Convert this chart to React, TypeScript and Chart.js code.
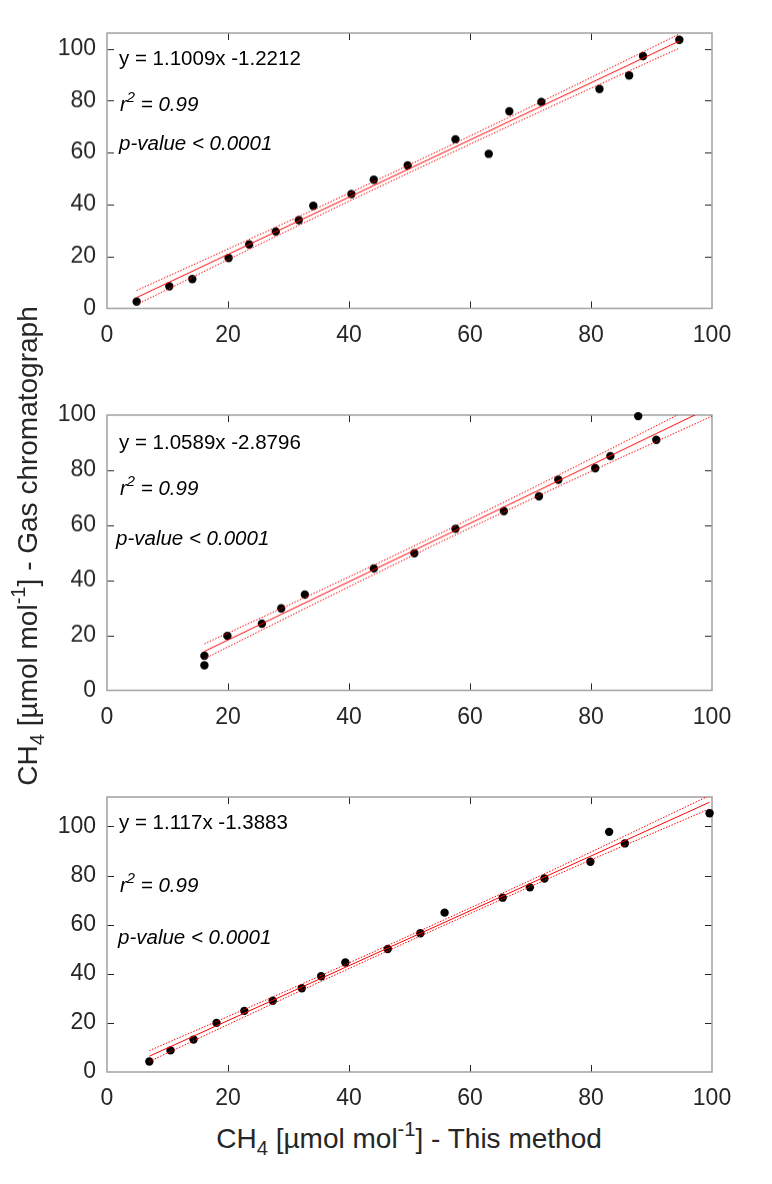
import { useEffect, useRef } from 'react';
import Chart from 'chart.js/auto';

// tick values shared by all three panels
const xTickValues = [0, 20, 40, 60, 80, 100];
const yTickValues = [0, 20, 40, 60, 80, 100];

// panel 1
const p1X = [4.9, 10.3, 14.1, 20.1, 23.5, 27.9, 31.7, 34.1, 40.4, 44.1, 49.7, 57.6, 63.1, 66.5, 71.8, 81.4, 86.3, 88.6, 94.6];
const p1Y = [2.6, 8.5, 11.3, 19.4, 24.6, 29.6, 34.0, 39.5, 44.0, 49.5, 55.0, 65.1, 59.5, 75.9, 79.5, 84.5, 89.7, 97.1, 103.4];
const fit1X = [4.9, 94.6];
const fit1Y = [4.17, 102.92];
const band1X = [4.9, 27, 48, 72, 94.6];
const band1Upper = [6.9, 30.3, 53.1, 79.8, 105.6];
const band1Lower = [1.5, 26.7, 50.1, 76.2, 100.2];

// panel 2
const p2X = [16.1, 16.1, 19.9, 25.6, 28.8, 32.7, 44.1, 50.8, 57.6, 65.6, 71.4, 74.6, 80.7, 83.2, 87.8, 90.8];
const p2Y = [9.1, 12.6, 19.8, 24.2, 29.8, 34.8, 44.3, 49.8, 58.7, 65.1, 70.5, 76.5, 80.7, 85.1, 99.6, 91.0];
const fit2X = [16.1, 100];
const fit2Y = [14.17, 103.01];
const band2X = [16.1, 36, 56, 78, 100];
const band2Upper = [16.9, 37.1, 58.0, 81.9, 106.4];
const band2Lower = [11.5, 33.3, 54.8, 77.5, 99.6];

// panel 3
const p3X = [7.0, 10.5, 14.3, 18.1, 22.7, 27.4, 32.2, 35.4, 39.4, 46.4, 51.8, 55.8, 65.4, 69.9, 72.3, 79.9, 83.0, 85.6, 99.6];
const p3Y = [4.3, 8.8, 13.2, 20.0, 24.9, 29.0, 34.1, 39.0, 44.6, 50.1, 56.5, 64.9, 71.0, 75.2, 78.8, 85.6, 97.8, 93.1, 105.4];
const fit3X = [7.0, 99.6];
const fit3Y = [6.43, 109.87];
const band3X = [7.0, 30, 52, 75, 99.6];
const band3Upper = [8.7, 33.4, 57.8, 83.8, 112.6];
const band3Lower = [4.3, 30.8, 55.6, 81.0, 107.2];

const TICK_COLOR = '#262626';
const FONT = '"Liberation Sans", Arial, sans-serif';

const toXY = (xs: number[], ys: number[]) => xs.map((x, i) => ({ x, y: ys[i] }));

// MATLAB-like box with inward ticks on all four sides
const boxPlugin = {
  id: 'boxTicks',
  beforeDatasetsDraw(chart: any) {
    const { ctx, chartArea: a, scales } = chart;
    const len = 7;
    ctx.save();
    ctx.strokeStyle = TICK_COLOR;
    ctx.lineWidth = 1;
    ctx.beginPath();
    scales.x.ticks.forEach((t: any) => {
      if (t.value <= scales.x.min || t.value >= scales.x.max) return;
      const px = Math.round(scales.x.getPixelForValue(t.value)) + 0.5;
      ctx.moveTo(px, a.bottom); ctx.lineTo(px, a.bottom - len);
      ctx.moveTo(px, a.top); ctx.lineTo(px, a.top + len);
    });
    scales.y.ticks.forEach((t: any) => {
      if (t.value <= scales.y.min || t.value >= scales.y.max) return;
      const py = Math.round(scales.y.getPixelForValue(t.value)) + 0.5;
      ctx.moveTo(a.left, py); ctx.lineTo(a.left + len, py);
      ctx.moveTo(a.right, py); ctx.lineTo(a.right - len, py);
    });
    ctx.stroke();
    ctx.strokeStyle = '#a0a0a0';
    ctx.lineWidth = 1.5;
    ctx.strokeRect(a.left, a.top, a.right - a.left, a.bottom - a.top);
    ctx.restore();
  },
};

interface PanelProps {
  top: number;
  bottom: number;
  yMax: number;
  xs: number[];
  ys: number[];
  fitX: number[];
  fitY: number[];
  bandX: number[];
  bandUpper: number[];
  bandLower: number[];
}

const BOX_LEFT = 107;
const BOX_RIGHT = 712;
const PAD_TOP = 12;
const X_AXIS_H = 45;

function Panel({ top, bottom, yMax, xs, ys, fitX, fitY, bandX, bandUpper, bandLower }: PanelProps) {
  const canvasRef = useRef<HTMLCanvasElement>(null);

  useEffect(() => {
    if (!canvasRef.current) return;
    const bandStyle = {
      showLine: true,
      borderColor: '#ff0000',
      borderWidth: 1,
      borderDash: [1.5, 1.5],
      pointRadius: 0,
      tension: 0.3,
      clip: 0,
    };
    const chart = new Chart(canvasRef.current, {
      type: 'scatter',
      data: {
        datasets: [
          { ...bandStyle, data: toXY(bandX, bandUpper) },
          { ...bandStyle, data: toXY(bandX, bandLower) },
          {
            showLine: true,
            borderColor: '#ff0000',
            borderWidth: 1,
            pointRadius: 0,
            clip: 0,
            data: toXY(fitX, fitY),
          },
          {
            data: toXY(xs, ys),
            pointRadius: 4.2,
            pointBackgroundColor: '#000000',
            pointBorderWidth: 0,
            clip: false,
          },
        ] as any,
      },
      options: {
        animation: false,
        responsive: true,
        maintainAspectRatio: false,
        layout: { padding: { top: PAD_TOP, right: 772 - BOX_RIGHT, left: 0, bottom: 0 } },
        plugins: { legend: { display: false }, tooltip: { enabled: false } },
        scales: {
          x: {
            type: 'linear',
            min: 0,
            max: 100,
            grid: { display: false, drawTicks: false },
            border: { display: false },
            afterBuildTicks: (scale: any) => {
              scale.ticks = xTickValues.map(v => ({ value: v }));
            },
            afterFit: (scale: any) => {
              scale.height = X_AXIS_H;
              scale.paddingLeft = 0;
              scale.paddingRight = 0;
            },
            ticks: { color: TICK_COLOR, padding: 13, maxRotation: 0, font: { family: FONT, size: 23 } },
          },
          y: {
            type: 'linear',
            min: 0,
            max: yMax,
            grid: { display: false, drawTicks: false },
            border: { display: false },
            afterBuildTicks: (scale: any) => {
              scale.ticks = yTickValues.map(v => ({ value: v }));
            },
            afterFit: (scale: any) => {
              scale.width = BOX_LEFT;
              scale.paddingTop = 0;
              scale.paddingBottom = 0;
            },
            ticks: { color: TICK_COLOR, padding: 11, font: { family: FONT, size: 23 } },
          },
        },
      },
      plugins: [boxPlugin],
    });
    return () => chart.destroy();
  }, []);

  return (
    <div
      style={{
        position: 'absolute',
        left: 0,
        top: top - PAD_TOP,
        width: 772,
        height: bottom - top + PAD_TOP + X_AXIS_H,
      }}
    >
      <canvas ref={canvasRef} />
    </div>
  );
}

const noteStyle = (left: number, centerY: number, italic: boolean): React.CSSProperties => ({
  position: 'absolute',
  left,
  top: centerY - 12,
  height: 24,
  lineHeight: '24px',
  fontFamily: FONT,
  fontSize: 20.5,
  fontStyle: italic ? 'italic' : 'normal',
  color: '#000',
  whiteSpace: 'nowrap',
});

const supStyle: React.CSSProperties = { fontSize: '0.72em', verticalAlign: '0.6em', lineHeight: 0 };
const subStyle: React.CSSProperties = { fontSize: '0.72em', verticalAlign: '-0.35em', lineHeight: 0 };

function Notes({ eq, y0, y1, y2, pvLeft }: { eq: string; y0: number; y1: number; y2: number; pvLeft: number }) {
  return (
    <>
      <div style={noteStyle(119, y0, false)}>{eq}</div>
      <div style={noteStyle(120, y1, true)}>
        r<span style={supStyle}>2</span> = 0.99
      </div>
      <div style={noteStyle(pvLeft, y2, true)}>p-value &lt; 0.0001</div>
    </>
  );
}

const titleText = (rest: string) => (
  <>
    CH<span style={subStyle}>4</span> [µmol mol<span style={supStyle}>-1</span>] - {rest}
  </>
);

const titleStyle: React.CSSProperties = {
  position: 'absolute',
  width: 700,
  height: 34,
  lineHeight: '34px',
  textAlign: 'center',
  fontFamily: FONT,
  fontSize: 28,
  color: TICK_COLOR,
  whiteSpace: 'nowrap',
};

export default function App() {
  return (
    <div
      style={{
        position: 'fixed',
        left: 0,
        top: 0,
        width: 772,
        height: 1184,
        background: '#ffffff',
        overflow: 'hidden',
      }}
    >
      <Panel top={33} bottom={307.5} yMax={106} xs={p1X} ys={p1Y} fitX={fit1X} fitY={fit1Y}
        bandX={band1X} bandUpper={band1Upper} bandLower={band1Lower} />
      <Panel top={415} bottom={689.5} yMax={100} xs={p2X} ys={p2Y} fitX={fit2X} fitY={fit2Y}
        bandX={band2X} bandUpper={band2Upper} bandLower={band2Lower} />
      <Panel top={797} bottom={1072} yMax={112} xs={p3X} ys={p3Y} fitX={fit3X} fitY={fit3Y}
        bandX={band3X} bandUpper={band3Upper} bandLower={band3Lower} />

      <Notes eq="y = 1.1009x -1.2212" y0={58} y1={104} y2={143} pvLeft={119} />
      <Notes eq="y = 1.0589x -2.8796" y0={442} y1={488} y2={538} pvLeft={116} />
      <Notes eq="y = 1.117x -1.3883" y0={822} y1={885} y2={937} pvLeft={118} />

      <div style={{ ...titleStyle, left: 409 - 350, top: 1139 - 17 }}>{titleText('This method')}</div>
      <div style={{ ...titleStyle, left: 28 - 350, top: 546 - 17, transform: 'rotate(-90deg)' }}>
        {titleText('Gas chromatograph')}
      </div>
    </div>
  );
}
